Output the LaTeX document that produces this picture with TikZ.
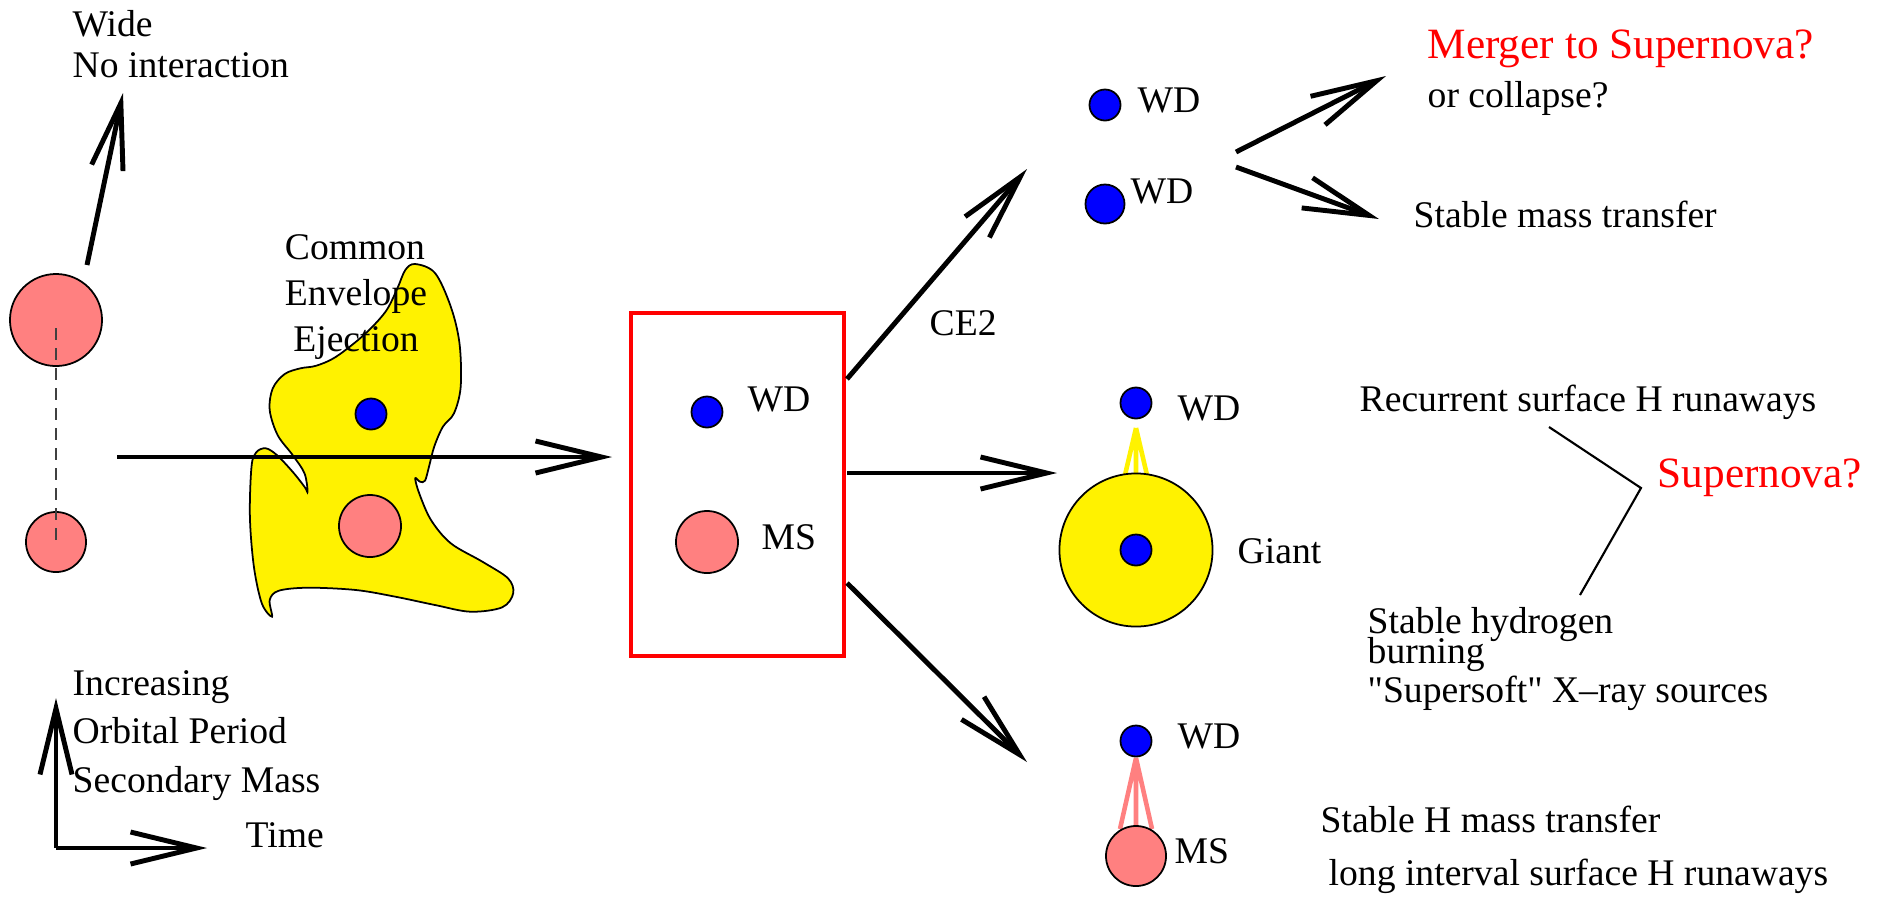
\documentclass[tikz,border=0pt]{standalone}
\usepackage{fontspec}
\setmainfont{Liberation Serif}[Ligatures=TeXOff]
\usetikzlibrary{arrows.meta}
\definecolor{pinkc}{HTML}{FF8080}
\tikzset{
  txt/.style={font=\fontsize{10.7pt}{12.8pt}\selectfont, inner sep=0pt, anchor=base west},
  redtxt/.style={font=\fontsize{12.3pt}{14pt}\selectfont, text=red, inner sep=0pt, anchor=base west},
  arr/.style={line width=1.4pt, -{Straight Barb[length=6.6mm,width=3.2mm]}},
  wdstar/.style={circle, draw=black, line width=0.5pt, fill=blue, inner sep=0pt, minimum size=0.31cm},
  msstar/.style={circle, draw=black, line width=0.5pt, fill=pinkc, inner sep=0pt},
  stream/.style={line width=1.3pt},
}
\begin{document}
\begin{tikzpicture}[x=0.01cm, y=-0.01cm]
\useasboundingbox (0,0) rectangle (1881,896);

% ---------- left: initial binary ----------
\node[msstar, minimum size=0.92cm] (lbig) at (56,320) {};
\node[msstar, minimum size=0.60cm] (lsmall) at (56,542) {};
\draw[black!75, line width=0.5pt, dash pattern=on 0.12cm off 0.08cm] (lbig.center) ++(0,8) -- (lsmall.center);
\coordinate (wideA) at (87,265);
\coordinate (wideB) at (123,93);
\draw[arr] (wideA) -- (wideB);
\node[txt] (wide1) at (72,36) {Wide};
\node[txt] (wide2) at (72,77) {No interaction};

% ---------- common envelope blob ----------
\draw[line width=0.5pt, fill=yellow] plot[smooth cycle, tension=0.55] coordinates {
 (415.2,264) (435,273) (450.8,306.7) (459.5,343.3) (460.7,386.7) (454,413.3)
 (442.9,426.7) (434.2,446.7) (429,466.7) (425,480.7) (420,481.7) (415.2,478.3)
 (419.2,493.3) (431,520) (450.8,543.3) (482.4,561.7) (508,578.3) (513.2,593.3)
 (502.2,607.3) (470.5,611.7) (435,605) (395.4,596.7) (355.9,590) (308.4,587.7)
 (278.8,590.7) (269.7,600) (272,616.7) (261.8,603.3) (253.9,566.7) (249.9,516.7)
 (251.5,466.7) (256.2,452.3) (265.7,448.3) (276.8,455) (292.6,471.7) (304.5,486.7)
 (307.6,491.7) (304.5,473.3) (292.6,455) (277.6,435) (269.7,410) (272.8,388.3)
 (284.7,374) (300.5,368.3) (316.3,365.7) (336.1,356.7) (363.8,335) (385.5,311.7)
 (397.4,288.3) (405.3,270)};
\node[wdstar] (cewd) at (371,414) {};
\node[msstar, minimum size=0.62cm] (cems) at (370,526) {};
\node[txt, anchor=base] (ce1) at (355,259) {Common};
\node[txt, anchor=base] (ce2t) at (356,305) {Envelope};
\node[txt, anchor=base] (ce3) at (356,351) {Ejection};
\coordinate (mainA) at (117,457);
\coordinate (mainB) at (612,457);
\draw[arr] (mainA) -- (mainB);

% ---------- red box ----------
\node[draw=red, line width=1.2pt, minimum width=2.13cm, minimum height=3.43cm, inner sep=0pt] (box) at (737.5,484.5) {};
\node[wdstar] (boxwd) at (707,412) {};
\node[msstar, minimum size=0.62cm] (boxms) at (707,542) {};
\node[txt] (boxwdl) at (747,411) {WD};
\node[txt] (boxmsl) at (761,549) {MS};

% ---------- three branches ----------
\coordinate (upA) at (847,379);
\coordinate (upB) at (1027,169);
\coordinate (midA) at (847,473);
\coordinate (midB) at (1057,473);
\coordinate (dnA) at (847,583);
\coordinate (dnB) at (1027,762);
\draw[arr] (upA) -- (upB);
\draw[arr] (midA) -- (midB);
\draw[arr] (dnA) -- (dnB);
\node[txt] (ce2lab) at (929,335) {CE2};

% ---------- top: double white dwarf ----------
\node[wdstar] (twd1) at (1105,105) {};
\node[wdstar, minimum size=0.39cm] (twd2) at (1105,204) {};
\node[txt] (twd1l) at (1137,112) {WD};
\node[txt] (twd2l) at (1130,203) {WD};
\coordinate (mgA) at (1236,152);
\coordinate (mgB) at (1386,76);
\coordinate (smA) at (1236,167);
\coordinate (smB) at (1379,219);
\draw[arr] (mgA) -- (mgB);
\draw[arr] (smA) -- (smB);
\node[redtxt] (merger) at (1427,58) {Merger to Supernova?};
\node[txt] (collapse) at (1427,107) {or collapse?};
\node[txt] (stablemt) at (1413,227) {Stable mass transfer};

% ---------- middle: WD + giant ----------
\coordinate (ysA) at (1136,428);
\coordinate (ys1) at (1125,475);
\coordinate (ys2) at (1136,475);
\coordinate (ys3) at (1147,475);
\draw[yellow, stream] (ysA) -- (ys1) (ysA) -- (ys2) (ysA) -- (ys3);
\node[circle, draw=black, line width=0.5pt, fill=yellow, inner sep=0pt, minimum size=1.53cm] (giant) at (1136,550) {};
\node[wdstar] (gcore) at (1136,550) {};
\node[wdstar] (gwd) at (1136,403) {};
\node[txt] (gwdl) at (1177,420) {WD};
\node[txt] (giantl) at (1237,563) {Giant};

% ---------- bottom: WD + MS ----------
\coordinate (psA) at (1136,758);
\coordinate (ps1) at (1120,829);
\coordinate (ps2) at (1136,827);
\coordinate (ps3) at (1152,829);
\draw[pinkc, stream] (psA) -- (ps1) (psA) -- (ps2) (psA) -- (ps3);
\node[wdstar] (bwd) at (1136,741) {};
\node[msstar, minimum size=0.60cm] (bms) at (1136,856) {};
\node[txt] (bwdl) at (1177,748) {WD};
\node[txt] (bmsl) at (1174,863) {MS};
\node[txt] (shmt) at (1320,832) {Stable H mass transfer};
\node[txt] (longint) at (1328,885) {long interval surface H runaways};

% ---------- right: supernova ----------
\node[txt] (recur) at (1359,411) {Recurrent surface H runaways};
\node[redtxt] (sn) at (1657,487) {Supernova?};
\node[txt] (shb1) at (1367,633) {Stable hydrogen};
\node[txt] (shb2) at (1367,663) {burning};
\node[txt] (shb3) at (1367,702) {"Supersoft" X–ray sources};
\coordinate (snA) at (1549,427);
\coordinate (snM) at (1641,488);
\coordinate (snB) at (1580,595);
\draw[line width=0.6pt] (snA) -- (snM) -- (snB);

% ---------- axes legend ----------
\coordinate (ax0) at (56,848);
\coordinate (axY) at (56,698);
\coordinate (axX) at (207,848);
\draw[arr] (ax0) -- (axY);
\draw[arr] (ax0) -- (axX);
\node[txt] (inc) at (72,695) {Increasing};
\node[txt] (orb) at (72,743) {Orbital Period};
\node[txt] (sec) at (72,792) {Secondary Mass};
\node[txt] (time) at (245,847) {Time};
\end{tikzpicture}
\end{document}
